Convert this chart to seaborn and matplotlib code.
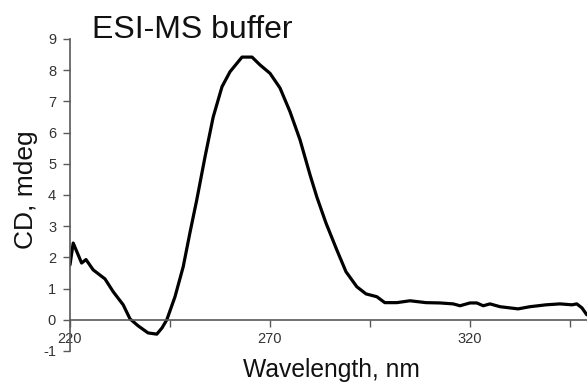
import numpy as np
import pandas as pd
import matplotlib
matplotlib.use("Agg")
import matplotlib.pyplot as plt
import seaborn as sns

# CD spectrum
wavelength = [220, 220.8, 222.9, 224, 225.8, 228.75, 230.8, 233.3, 235, 237,
              239.5, 241.7, 243, 244.2, 246.25, 248.3, 250, 251.7, 253.75, 255.8,
              258, 260, 263, 265.5, 267.5, 270, 272.5, 275, 277.5, 280,
              281.7, 284, 286.7, 289, 291.7, 294, 296.7, 298.7, 301.7, 305,
              309, 312.5, 315.8, 317.5, 320, 321.7, 323.3, 325, 327.5, 332,
              335, 339, 342.5, 345.5, 346.7, 348, 349.2]
cd_mdeg = [1.76, 2.46, 1.82, 1.93, 1.6, 1.31, 0.9, 0.48, 0.03, -0.19,
           -0.42, -0.46, -0.26, 0.0, 0.74, 1.7, 2.8, 3.85, 5.22, 6.5,
           7.47, 7.95, 8.42, 8.42, 8.17, 7.9, 7.43, 6.67, 5.77, 4.65,
           3.94, 3.1, 2.24, 1.54, 1.06, 0.83, 0.74, 0.55, 0.55, 0.61,
           0.55, 0.54, 0.51, 0.45, 0.54, 0.54, 0.45, 0.51, 0.42, 0.35,
           0.42, 0.48, 0.51, 0.48, 0.51, 0.38, 0.16]

x_ticks = [220, 245, 270, 295, 320, 345]
x_tick_labels = ["220", "", "270", "", "320", ""]
y_ticks = list(range(-1, 10))

df = pd.DataFrame({"wavelength": wavelength, "cd": cd_mdeg})

sns.set_style("white")
plt.rcParams["font.family"] = ["Liberation Sans", "DejaVu Sans"]
plt.rcParams["axes.unicode_minus"] = False

fig = plt.figure(figsize=(5.87, 3.83), dpi=100)
ax = fig.add_axes([70 / 587, 1 - 351 / 383, 1 - 70 / 587, 312 / 383])

sns.lineplot(data=df, x="wavelength", y="cd", color="black", linewidth=2.3, ax=ax)

ax.set_xlim(220, 349.25)
ax.set_ylim(-1, 9)
ax.set_xticks(x_ticks)
ax.set_xticklabels(x_tick_labels)
ax.set_yticks(y_ticks)

axis_grey = "#595959"
for s in ["top", "right"]:
    ax.spines[s].set_visible(False)
ax.spines["bottom"].set_position(("data", 0))
for s in ["left", "bottom"]:
    ax.spines[s].set_color(axis_grey)
    ax.spines[s].set_linewidth(1.2)

ax.tick_params(axis="both", which="major", direction="out", length=5,
               width=1, color=axis_grey, labelsize=10.5, labelcolor="#333333",
               left=True, bottom=True)
ax.tick_params(axis="y", pad=5)
ax.tick_params(axis="x", pad=4)

ax.set_xlabel("Wavelength, nm", fontsize=17.7, color="#111111")
ax.set_ylabel("CD, mdeg", fontsize=19, color="#111111")
ax.xaxis.set_label_coords(0.505, -0.021)
ax.yaxis.set_label_coords(-0.062, 0.516)

fig.text(92 / 587, 1 - 38 / 383, "ESI-MS buffer", fontsize=23,
         ha="left", va="baseline", color="#111111")

fig.savefig("out.png", dpi=100)
